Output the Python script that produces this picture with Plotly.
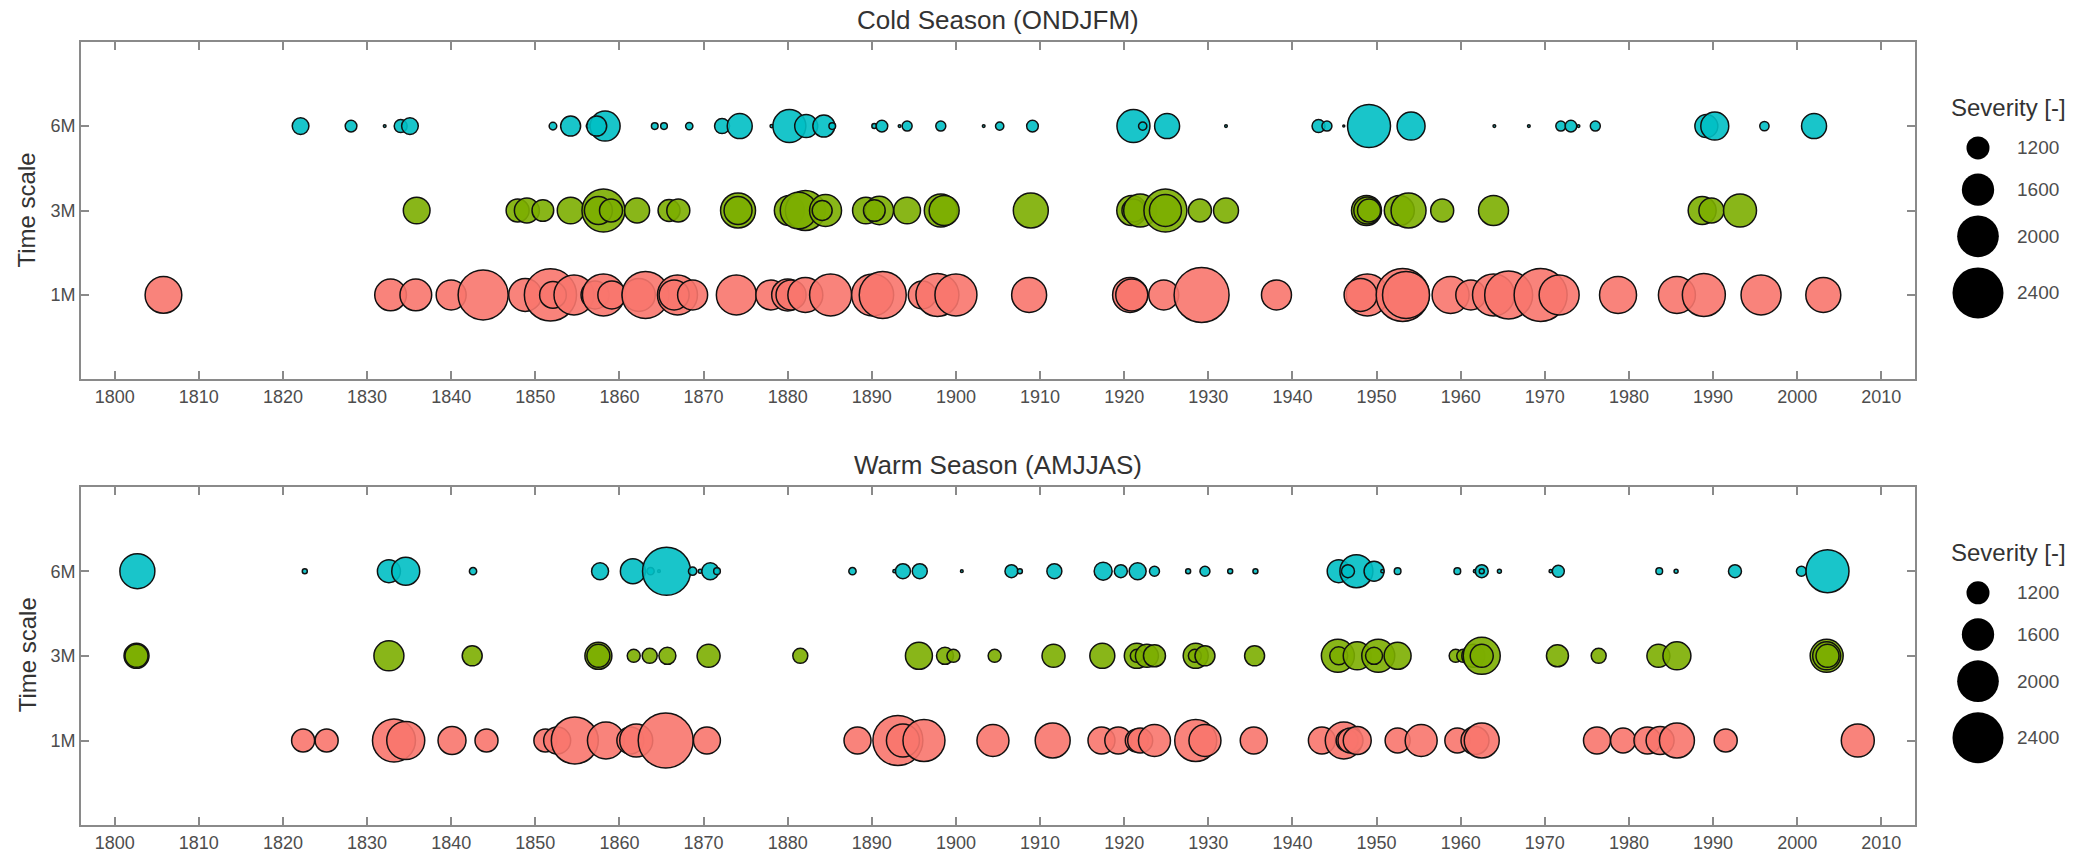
import plotly.graph_objects as go

# ---------------- data ----------------
timescales = ["1M", "3M", "6M"]
year_ticks = list(range(1800, 2011, 10))
legend_severity = [1200, 1600, 2000, 2400]

# Cold season (ONDJFM)
cold_6M_year = [1822.1, 1828.1, 1832.1, 1834.0, 1835.1, 1852.1, 1854.2, 1856.3, 1858.3, 1857.3,
                1864.2, 1865.3, 1868.3, 1872.2, 1874.3, 1878.1, 1880.2, 1882.2, 1884.3, 1885.3,
                1890.3, 1891.2, 1893.3, 1894.2, 1898.2, 1903.3, 1905.2, 1909.1, 1921.1, 1922.2,
                1925.1, 1932.1, 1943.1, 1944.1, 1946.1, 1949.1, 1954.1, 1964.0, 1968.1, 1971.9,
                1973.1, 1974.0, 1976.0, 1989.2, 1990.2, 1996.1, 2002.0]
cold_6M_sev = [930, 716, 330, 771, 930, 540, 1071, 386, 1500, 1071,
               501, 501, 527, 857, 1286, 356, 1629, 1200, 1157, 501,
               429, 716, 330, 643, 643, 330, 570, 716, 1629, 570,
               1286, 330, 771, 643, 300, 2057, 1414, 330, 330, 643,
               716, 330, 643, 1200, 1414, 613, 1286]

cold_3M_year = [1835.9, 1847.9, 1849.0, 1850.9, 1854.2, 1858.1, 1857.5, 1859.0, 1862.1, 1865.9,
                1867.0, 1874.1, 1874.1, 1880.2, 1882.1, 1881.3, 1884.5, 1884.1, 1889.3, 1890.9,
                1890.3, 1894.2, 1898.2, 1898.6, 1908.9, 1920.9, 1921.1, 1921.9, 1924.9, 1924.9,
                1929.0, 1932.1, 1948.8, 1948.9, 1949.1, 1952.7, 1953.8, 1957.8, 1963.9, 1988.7,
                1989.8, 1993.2]
cold_3M_sev = [1359, 1200, 1286, 1144, 1359, 2057, 1414, 1200, 1286, 1157,
               1200, 1714, 1414, 1500, 1929, 1787, 1586, 1071, 1359, 1427,
               1144, 1359, 1629, 1500, 1714, 1500, 1200, 1629, 2057, 1586,
               1200, 1286, 1500, 1371, 1200, 1500, 1714, 1200, 1500, 1414,
               1286, 1629]

cold_1M_year = [1805.8, 1832.8, 1835.8, 1840.0, 1843.8, 1848.8, 1851.8, 1852.1, 1854.6, 1857.1,
                1858.1, 1859.1, 1862.3, 1863.1, 1866.9, 1866.5, 1868.7, 1873.9, 1878.0, 1880.0,
                1880.4, 1882.1, 1885.1, 1890.1, 1891.3, 1896.0, 1897.8, 1900.0, 1908.7, 1920.7,
                1920.9, 1924.7, 1929.2, 1938.1, 1948.9, 1948.1, 1953.1, 1953.5, 1958.8, 1961.2,
                1963.9, 1965.7, 1969.5, 1971.7, 1978.7, 1985.7, 1988.9, 1995.7, 2003.1]
cold_1M_sev = [1787, 1573, 1573, 1500, 2357, 1629, 2450, 1359, 1929, 1414,
               2014, 1414, 1629, 2229, 1929, 1500, 1500, 1929, 1500, 1586,
               1500, 1714, 2014, 2014, 2229, 1414, 2057, 2014, 1714, 1714,
               1586, 1500, 2571, 1500, 2014, 1629, 2486, 2229, 1800, 1500,
               2014, 2271, 2486, 1929, 1800, 1800, 2057, 1929, 1714]

# Warm season (AMJJAS)
warm_6M_year = [1802.7, 1822.6, 1832.6, 1834.6, 1842.6, 1857.7, 1861.6, 1863.7, 1864.7, 1865.6,
                1868.7, 1869.6, 1870.8, 1871.6, 1887.7, 1892.7, 1893.7, 1895.7, 1900.7, 1906.6,
                1907.6, 1911.7, 1917.5, 1919.6, 1921.6, 1923.6, 1927.6, 1929.6, 1932.6, 1935.6,
                1945.5, 1947.6, 1946.6, 1949.7, 1950.7, 1952.5, 1959.6, 1961.7, 1962.5, 1962.5,
                1964.6, 1970.7, 1971.6, 1983.6, 1985.6, 1992.6, 2000.5, 2003.6]
warm_6M_sev = [1714, 429, 1200, 1414, 527, 943, 1286, 527, 330, 2271,
               570, 386, 943, 501, 527, 356, 857, 857, 330, 771,
               429, 857, 986, 771, 943, 643, 429, 643, 429, 429,
               1200, 1629, 771, 1071, 356, 501, 501, 356, 771, 429,
               386, 356, 729, 501, 386, 771, 643, 2057]

warm_3M_year = [1802.6, 1802.6, 1832.6, 1842.5, 1857.5, 1857.5, 1861.7, 1863.6, 1865.7, 1870.6,
                1881.5, 1895.6, 1898.7, 1899.7, 1904.6, 1911.6, 1917.4, 1921.5, 1921.5, 1922.7,
                1923.6, 1928.5, 1928.4, 1929.6, 1935.5, 1945.4, 1945.5, 1947.7, 1950.2, 1949.7,
                1952.5, 1959.4, 1960.3, 1961.5, 1962.5, 1962.5, 1971.5, 1976.4, 1983.5, 1985.7,
                2003.5, 2003.5, 2003.6]
warm_3M_sev = [1286, 1200, 1500, 1071, 1371, 1200, 771, 857, 943, 1200,
               857, 1371, 943, 771, 771, 1200, 1286, 1286, 771, 1200,
               1157, 1286, 771, 1071, 1071, 1629, 986, 1414, 1629, 943,
               1371, 771, 771, 1200, 1800, 1200, 1157, 857, 1200, 1414,
               1629, 1414, 1200]

warm_1M_year = [1822.4, 1825.2, 1833.2, 1834.6, 1840.1, 1844.2, 1851.2, 1852.6, 1854.7, 1858.4,
                1861.3, 1862.0, 1865.5, 1870.4, 1888.3, 1893.1, 1893.7, 1896.2, 1904.4, 1911.5,
                1917.3, 1919.3, 1921.5, 1921.9, 1923.6, 1928.5, 1929.6, 1935.4, 1943.5, 1946.1,
                1946.5, 1946.9, 1947.7, 1952.5, 1955.3, 1959.6, 1961.7, 1962.5, 1976.2, 1979.3,
                1982.2, 1983.7, 1985.7, 1991.5, 2007.2]
warm_1M_sev = [1200, 1200, 2057, 1843, 1414, 1200, 1200, 1371, 2229, 1800,
               1371, 1629, 2571, 1371, 1371, 2357, 1629, 2014, 1586, 1714,
               1371, 1371, 1200, 1286, 1586, 2014, 1586, 1371, 1371, 1800,
               1157, 1286, 1414, 1286, 1586, 1286, 1414, 1714, 1371, 1286,
               1371, 1414, 1714, 1200, 1629]

# ---------------- style ----------------
W, H = 2089, 853
COLORS = {"1M": "rgba(248,118,109,0.9)", "3M": "rgba(124,174,0,0.9)", "6M": "rgba(0,191,196,0.9)"}
FONT = "Liberation Sans, Arial, sans-serif"
AXIS_GRAY = "#8a8a8a"
TICK_TXT = "#4d4d4d"
TITLE_TXT = "#333333"


def sev_to_px(s):
    # bubble diameter (px) grows linearly with severity
    return max(0.02333 * s - 5.0, 2.0)


fig = go.Figure()

panels = [
    ("x", "y", {"6M": (cold_6M_year, cold_6M_sev), "3M": (cold_3M_year, cold_3M_sev),
                "1M": (cold_1M_year, cold_1M_sev)}),
    ("x2", "y2", {"6M": (warm_6M_year, warm_6M_sev), "3M": (warm_3M_year, warm_3M_sev),
                  "1M": (warm_1M_year, warm_1M_sev)}),
]

for xa, ya, series in panels:
    for ts in ["1M", "3M", "6M"]:
        yrs, sev = series[ts]
        fig.add_trace(go.Scatter(
            x=yrs, y=[ts] * len(yrs), mode="markers", xaxis=xa, yaxis=ya,
            marker=dict(size=[sev_to_px(s) for s in sev], sizemode="diameter", opacity=1,
                        color=COLORS[ts], line=dict(color="#111111", width=1.5)),
            showlegend=False, hoverinfo="x+text", text=[str(s) for s in sev]))

# custom size legends, on a hidden pixel-space overlay axis
panel_offsets = [0, 448]
key_y = [149, 191, 238, 295]
KEY_X, LABEL_X = 1978, 2015
annotations = []
for off in panel_offsets:
    fig.add_trace(go.Scatter(
        x=[KEY_X] * len(legend_severity), y=[k + off for k in key_y], mode="markers",
        xaxis="x3", yaxis="y3",
        marker=dict(size=[sev_to_px(s) for s in legend_severity], color="black",
                    line=dict(width=0), opacity=1),
        showlegend=False, hoverinfo="skip", cliponaxis=False))
    for s, k in zip(legend_severity, key_y):
        annotations.append(dict(text=str(s), x=LABEL_X, y=k + off, xref="x3", yref="y3",
                                xanchor="left", yanchor="middle", showarrow=False,
                                font=dict(family=FONT, size=19, color=TICK_TXT)))

x_dom = [81 / W, 1915 / W]
axis_common = dict(showline=True, linecolor=AXIS_GRAY, linewidth=2, mirror="ticks",
                   ticks="inside", ticklen=8, tickwidth=1.5, tickcolor=AXIS_GRAY,
                   showgrid=False, zeroline=False,
                   tickfont=dict(family=FONT, size=18, color=TICK_TXT))

xcfg = dict(axis_common, range=[1796, 2014], tickmode="array", tickvals=year_ticks,
            ticktext=[str(t) for t in year_ticks], domain=x_dom)
ycfg = dict(axis_common, type="category", categoryorder="array", categoryarray=timescales,
            range=[-1, 3], tickmode="array", tickvals=timescales, ticktext=timescales)

fig.update_layout(
    width=W, height=H, margin=dict(l=0, r=0, t=0, b=0),
    paper_bgcolor="white", plot_bgcolor="rgba(0,0,0,0)",
    xaxis=dict(xcfg, anchor="y"),
    yaxis=dict(ycfg, domain=[1 - 382 / H, 1 - 42 / H], anchor="x"),
    xaxis2=dict(xcfg, anchor="y2"),
    yaxis2=dict(ycfg, domain=[1 - 831 / H, 1 - 490 / H], anchor="x2"),
    xaxis3=dict(domain=[0, 1], range=[0, W], visible=False, anchor="y3"),
    yaxis3=dict(domain=[0, 1], range=[H, 0], visible=False, anchor="x3"),
    showlegend=False,
)

for title, ty, cy, off in [("Cold Season (ONDJFM)", 20, 212, 0),
                           ("Warm Season (AMJJAS)", 468, 660, 448)]:
    annotations.append(dict(text=title, x=998 / W, y=1 - ty / H, xref="paper", yref="paper",
                            xanchor="center", yanchor="middle", showarrow=False,
                            font=dict(family=FONT, size=26, color=TITLE_TXT)))
    annotations.append(dict(text="Time scale", x=27 / W, y=1 - cy / H, xref="paper", yref="paper",
                            xanchor="center", yanchor="middle", showarrow=False, textangle=-90,
                            font=dict(family=FONT, size=24, color=TITLE_TXT)))
    annotations.append(dict(text="Severity [-]", x=2008 / W, y=1 - (108 + off) / H,
                            xref="paper", yref="paper", xanchor="center", yanchor="middle",
                            showarrow=False, font=dict(family=FONT, size=24, color=TITLE_TXT)))
fig.update_layout(annotations=annotations)

fig.write_html("out.html")
